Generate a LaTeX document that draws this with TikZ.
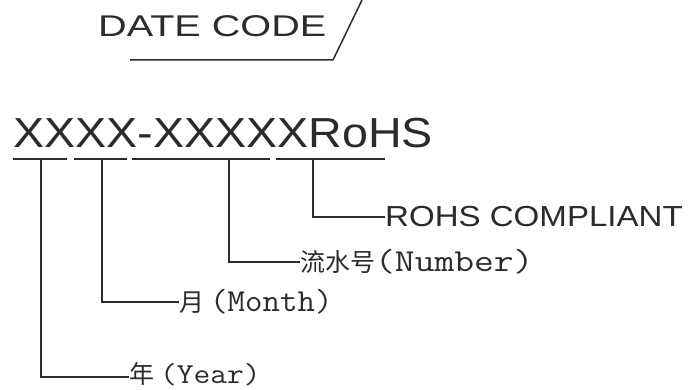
\documentclass[tikz,border=0pt]{standalone}
\usepackage{fontspec}
\setmainfont{Liberation Sans}
\newfontfamily\cjk{Noto Sans CJK SC}
\definecolor{ink}{HTML}{2B2B2B}
\begin{document}
\begin{tikzpicture}[x=1pt,y=-1pt,
  ln/.style={draw=ink,line width=1.5pt},
  sanslbl/.style={inner sep=0pt,text=ink},
  cnlbl/.style={inner sep=0pt,text=ink,anchor=west,font=\fontsize{25}{25}\selectfont}]
\useasboundingbox (0,0) rectangle (690,390);
% title
\node[sanslbl,anchor=base west] (dc) at (98,37) {\fontsize{30}{30}\selectfont\scalebox{1.32}[1]{DATE CODE}};
\coordinate (dcA) at (130,60);
\coordinate (dcB) at (333,60);
\coordinate (dcC) at (362,0);
\draw[ln] (dcA) -- (dcB) -- (dcC);
% code
\node[sanslbl,anchor=base west] (code) at (13,148) {\fontsize{42}{42}\selectfont\scalebox{1.11}[1]{XXXX-XXXXXRoHS}};
% underline segments
\coordinate (s1a) at (13,159);  \coordinate (s1b) at (67,159);  \coordinate (t1) at (41,159);
\coordinate (s2a) at (74,159);  \coordinate (s2b) at (127,159); \coordinate (t2) at (102,159);
\coordinate (s3a) at (132,159); \coordinate (s3b) at (270,159); \coordinate (t3) at (229,159);
\coordinate (s4a) at (276,159); \coordinate (s4b) at (385,159); \coordinate (t4) at (313,159);
\draw[ln] (s1a) -- (s1b);
\draw[ln] (s2a) -- (s2b);
\draw[ln] (s3a) -- (s3b);
\draw[ln] (s4a) -- (s4b);
% labels
\node[sanslbl,anchor=west] (rohs) at (385,217) {\fontsize{29}{29}\selectfont\scalebox{1.14}[1]{ROHS COMPLIANT}};
\node[cnlbl] (num) at (300,262) {\cjk 流水号\ttfamily\fontsize{32}{32}\selectfont\scalebox{1.2}[1]{(Number)}};
\node[cnlbl] (mon) at (179,302) {\cjk 月\hspace{6pt}\ttfamily\fontsize{32}{32}\selectfont\scalebox{1.06}[1]{(Month)}};
\node[cnlbl] (yr) at (129,374) {\cjk 年\hspace{6pt}\ttfamily\fontsize{29}{29}\selectfont\scalebox{1.12}[1]{(Year)}};
% connectors
\draw[ln] (t4) |- (rohs.west);
\draw[ln] (t3) |- (num.west);
\draw[ln] (t2) |- (mon.west);
\draw[ln] (t1) |- ([yshift=-3pt]yr.west);
\end{tikzpicture}
\end{document}
